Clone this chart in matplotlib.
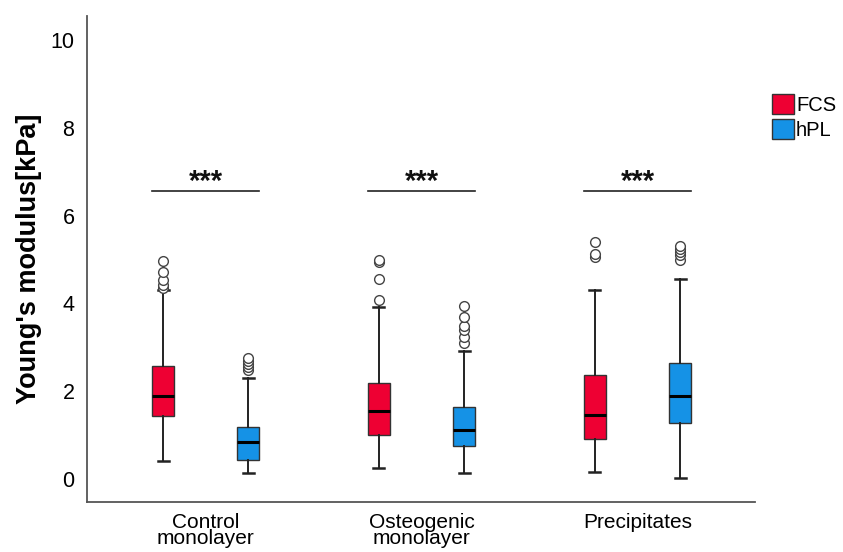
import matplotlib
matplotlib.use("Agg")
import matplotlib.pyplot as plt
from matplotlib.patches import Patch

plt.rcParams['font.family'] = ['Liberation Sans', 'DejaVu Sans']

categories = ["Control\nmonolayer", "Osteogenic\nmonolayer", "Precipitates"]
series = ["FCS", "hPL"]
colors = {"FCS": "#EE0033", "hPL": "#1592E6"}

# five-number summaries per category, per series
fcs_whislo = [0.41, 0.24, 0.17]
fcs_q1 = [1.43, 1.00, 0.92]
fcs_med = [1.89, 1.56, 1.45]
fcs_q3 = [2.57, 2.18, 2.36]
fcs_whishi = [4.31, 3.93, 4.31]
fcs_fliers = [[4.35, 4.42, 4.53, 4.72, 4.97],
              [4.08, 4.55, 4.95, 5.0],
              [5.05, 5.12, 5.40]]

hpl_whislo = [0.14, 0.14, 0.03]
hpl_q1 = [0.43, 0.76, 1.28]
hpl_med = [0.84, 1.12, 1.89]
hpl_q3 = [1.19, 1.65, 2.65]
hpl_whishi = [2.29, 2.92, 4.56]
hpl_fliers = [[2.48, 2.56, 2.63, 2.70, 2.76],
              [3.10, 3.24, 3.40, 3.49, 3.70, 3.94],
              [5.00, 5.10, 5.18, 5.25, 5.31]]

sig_labels = ["***", "***", "***"]
sig_level = 6.56

yticks = [0, 2, 4, 6, 8, 10]

fig = plt.figure(figsize=(8.43, 5.52), dpi=100)
ax = fig.add_axes([0.1032, 0.0906, 0.7924, 0.8804])

offset = 0.197
width = 0.102

def stats(wl, q1, md, q3, wh, fl):
    return [dict(whislo=a, q1=b, med=c, q3=d, whishi=e, fliers=f)
            for a, b, c, d, e, f in zip(wl, q1, md, q3, wh, fl)]

groups = {
    "FCS": stats(fcs_whislo, fcs_q1, fcs_med, fcs_q3, fcs_whishi, fcs_fliers),
    "hPL": stats(hpl_whislo, hpl_q1, hpl_med, hpl_q3, hpl_whishi, hpl_fliers),
}

for k, s in enumerate(series):
    pos = [i + (2 * k - 1) * offset for i in range(len(categories))]
    ax.bxp(groups[s], positions=pos, widths=width, patch_artist=True,
           boxprops=dict(facecolor=colors[s], edgecolor="#333333", linewidth=1.0),
           medianprops=dict(color="black", linewidth=2.2),
           whiskerprops=dict(color="#222222", linewidth=1.4),
           capprops=dict(color="#222222", linewidth=1.8),
           capwidths=width * 0.5,
           flierprops=dict(marker="o", markerfacecolor="white", markeredgecolor="#444444",
                           markersize=7, markeredgewidth=1.0, linestyle="none"),
           manage_ticks=False)

for i, lab in enumerate(sig_labels):
    x0 = i - offset - width / 2
    x1 = i + offset + width / 2
    ax.plot([x0, x1], [sig_level, sig_level], color="#222222", linewidth=1.2)
    ax.text(i, sig_level - 0.12, lab, ha="center", va="bottom", fontsize=21,
            fontweight="bold", color="#111111")

ax.set_xlim(-0.549, 2.544)
ax.set_ylim(-0.524, 10.55)
ax.set_yticks(yticks)
ax.set_yticklabels([str(t) for t in yticks], fontsize=15.5)
ax.set_xticks(range(len(categories)))
ax.set_xticklabels(categories, fontsize=15, linespacing=0.82)
ax.tick_params(axis="both", length=0)
ax.tick_params(axis="y", pad=9)
ax.tick_params(axis="x", pad=8)
for sp in ["top", "right"]:
    ax.spines[sp].set_visible(False)
for sp in ["left", "bottom"]:
    ax.spines[sp].set_color("#555555")
    ax.spines[sp].set_linewidth(1.3)

ax.set_ylabel("Young's modulus[kPa]", fontsize=19.5, fontweight="bold", labelpad=6)

handles = [Patch(facecolor=colors[s], edgecolor="#333333", label=s) for s in series]
fig.legend(handles=handles, loc="upper left", bbox_to_anchor=(0.906, 0.845),
           frameon=False, fontsize=14.5, handlelength=1.1, handleheight=1.2,
           handletextpad=0.1, labelspacing=0.2, borderaxespad=0)

fig.savefig("out.png", dpi=100)
